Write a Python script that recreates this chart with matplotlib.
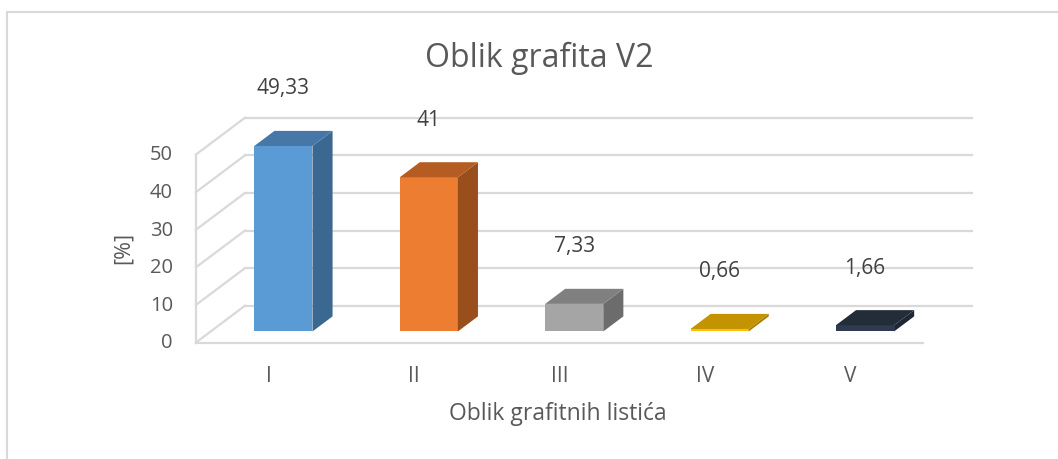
import matplotlib
matplotlib.use("Agg")
import matplotlib.pyplot as plt
from matplotlib.patches import Polygon, Rectangle

plt.rcParams['font.family'] = ['Open Sans', 'DejaVu Sans']

# data
categories = ['I', 'II', 'III', 'IV', 'V']
values = [49.33, 41, 7.33, 0.66, 1.66]
value_labels = ['49,33', '41', '7,33', '0,66', '1,66']
y_ticks = [0, 10, 20, 30, 40, 50]

# face colours: front, side, top
front_colors = ['#5B9BD5', '#ED7D31', '#A5A5A5', '#FFC000', '#2E3B4F']
side_colors = ['#3A6890', '#9A4E1C', '#6C6C6C', '#A67C00', '#1E2733']
top_colors = ['#4677A6', '#B55C22', '#808080', '#C39300', '#232C39']

# layout of the pseudo-3d plot area (pixels)
W, H = 1058, 460
X0_PX, X5_PX = 196, 923
Y0_PX, Y50_PX = 343.5, 155.5
px_cat = (X5_PX - X0_PX) / len(categories)
px_val = (Y0_PX - Y50_PX) / 50
DX = 49 / px_cat          # depth offset in category units
DY = 36.8 / px_val        # depth offset in value units
F0, F1 = 0.30, 0.71       # bar front/back as fraction of depth
BAR_W = 0.40

fig = plt.figure(figsize=(W / 100, H / 100), dpi=100)
ax = fig.add_axes([0, 0, 1, 1])
ax.set_xlim(-X0_PX / px_cat, (W - X0_PX) / px_cat)
ax.set_ylim(-(H - Y0_PX) / px_val, Y0_PX / px_val)
ax.axis('off')


def px(x, y):
    # pixel position -> data coordinates
    return (x - X0_PX) / px_cat, (Y0_PX - y) / px_val


# chart border
fig.patches.append(Rectangle((7 / W, -0.1), 1.2, (H - 13) / H + 0.1,
                             transform=fig.transFigure, fill=False,
                             edgecolor='#D9D9D9', lw=1.5))

grid_c = '#D9D9D9'
n = len(categories)
for t in y_ticks:
    ax.plot([DX, n + DX], [t + DY, t + DY], color=grid_c, lw=1.6, zorder=1)
    ax.plot([0, DX], [t, t + DY], color=grid_c, lw=1.6, zorder=1)
    ax.text(-23 / px_cat, t, str(t), ha='right', va='center',
            fontsize=14.5, color='#595959')
ax.plot([0, 0], [0, y_ticks[-1]], color=grid_c, lw=1.6, zorder=1)
ax.plot([0, n], [0, 0], color=grid_c, lw=1.6, zorder=1)

# bars
for i, v in enumerate(values):
    xl = i + 0.5 - BAR_W / 2 + F0 * DX
    xr = xl + BAR_W
    y0 = F0 * DY
    ddx, ddy = (F1 - F0) * DX, (F1 - F0) * DY
    front = Polygon([(xl, y0), (xr, y0), (xr, y0 + v), (xl, y0 + v)],
                    closed=True, fc=front_colors[i], ec='none', zorder=3)
    side = Polygon([(xr, y0), (xr + ddx, y0 + ddy), (xr + ddx, y0 + ddy + v),
                    (xr, y0 + v)], closed=True, fc=side_colors[i], ec='none', zorder=3)
    top = Polygon([(xl, y0 + v), (xr, y0 + v), (xr + ddx, y0 + v + ddy),
                   (xl + ddx, y0 + v + ddy)], closed=True, fc=top_colors[i],
                  ec='none', zorder=3)
    for p in (front, side, top):
        ax.add_patch(p)
    ax.annotate(value_labels[i], ((xl + xr) / 2, y0 + v + ddy),
                xytext=(0, 31), textcoords='offset points',
                ha='center', va='center', fontsize=15, color='#404040')
    ax.text(i + 0.5, px(0, 377)[1], categories[i], ha='center', va='center',
            fontsize=15, color='#595959')

ax.text(*px(539, 58), 'Oblik grafita V2',
        ha='center', va='center', fontsize=23, color='#595959')
ax.text(*px(558, 414), 'Oblik grafitnih listića',
        ha='center', va='center', fontsize=16.5, color='#595959')
ax.text(*px(123, 248), '[%]', rotation=90,
        ha='center', va='center', fontsize=15.5, color='#595959')

fig.savefig('out.png', dpi=100)
